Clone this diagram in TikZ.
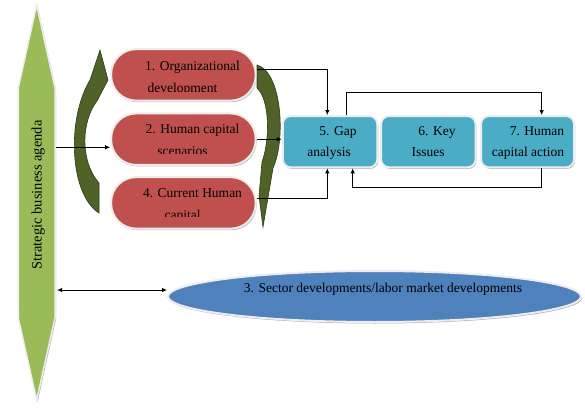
\documentclass[tikz,border=0pt]{standalone}
\usepackage{fontspec}
\setmainfont{Liberation Serif}
\usetikzlibrary{arrows.meta,shapes.geometric,shadows}
\definecolor{cred}{HTML}{C0504D}
\definecolor{cteal}{HTML}{4BACC6}
\definecolor{cblue}{HTML}{4F81BD}
\definecolor{cgreen}{HTML}{9BBB59}
\definecolor{cdark}{HTML}{4F6228}
\definecolor{cdarkline}{HTML}{2E3A17}
\definecolor{cedge}{HTML}{EDEDED}
\begin{document}
\begin{tikzpicture}[x=1pt,y=-1pt,
  conn/.style={line width=0.8pt,-{Latex[length=5pt,width=4.5pt]}},
  dconn/.style={line width=0.8pt,{Latex[length=5pt,width=4.5pt]}-{Latex[length=5pt,width=4.5pt]}},
  shad/.style={drop shadow={shadow xshift=1pt,shadow yshift=-1.5pt,opacity=0.3,fill=black}},
  redbox/.style={rectangle,rounded corners=25pt,fill=cred,draw=cedge,line width=2pt,
    minimum width=144.5pt,minimum height=51.5pt,inner sep=0pt,shad},
  tealbox/.style={rectangle,rounded corners=8pt,fill=cteal,draw=cedge,line width=2pt,
    minimum width=94.5pt,minimum height=51.3pt,inner sep=0pt,shad},
  curvarrow/.style={fill=cdark,draw=cdarkline,line width=0.6pt},
  txt/.style={anchor=base,inner sep=0pt,font=\fontsize{13.5}{16}\selectfont},
]
\useasboundingbox (0,0) rectangle (585,411);

% green bar
\path[fill=cgreen,draw=cedge,line width=1.5pt,shad]
  (36.7,5) -- (55,88) -- (55,318) -- (36.7,400) -- (18.3,318) -- (18.3,88) -- cycle;
\node[txt,rotate=90,font=\fontsize{14.5}{16}\selectfont] (agenda) at (41.5,195) {Strategic business agenda};
\coordinate (ag1) at (56,147.3);
\coordinate (ag2) at (57,290);

% curved arrows
\path[curvarrow] (100,50) -- (108,80) -- (97,101)
  .. controls (82,120) and (79,160) .. (99,183) -- (99,213)
  .. controls (70,195) and (66,120) .. (90,80) -- cycle;
\path[curvarrow] (257,65) .. controls (282,72) and (286,140) .. (273,168)
  -- (263,227) -- (259,196) -- (262,162)
  .. controls (270,140) and (270,100) .. (257,88) -- cycle;

% red boxes
\node[redbox] (b1) at (183.4,74.9) {};
\node[redbox] (b2) at (183.4,139.2) {};
\node[redbox] (b4) at (183.4,202.9) {};
\node[txt] (b1t) at (192.5,70.7) {1. Organizational};
\node[txt] (b2t) at (192.5,134) {2. Human capital};
\node[txt] (b4t) at (192.5,197.7) {4. Current Human};
\begin{scope}
  \clip (100,40) rectangle (270,91.2);
  \node[txt] (b1u) at (182.5,93) {development};
\end{scope}
\begin{scope}
  \clip (100,100) rectangle (270,154);
  \node[txt] (b2u) at (182.5,156) {scenarios};
\end{scope}
\begin{scope}
  \clip (100,170) rectangle (270,217);
  \node[txt] (b4u) at (182.5,219.5) {capital};
\end{scope}

% teal boxes
\node[tealbox] (g5) at (330,141.7) {};
\node[tealbox] (k6) at (428.3,141.7) {};
\node[tealbox,minimum width=93pt] (h7) at (527.5,141.7) {};
\node[txt] (g5a) at (338,136) {5. Gap};
\node[txt] (g5b) at (329,156.7) {analysis};
\node[txt] (k6a) at (437,136) {6. Key};
\node[txt] (k6b) at (428,156.7) {Issues};
\node[txt] (h7a) at (537,136) {7. Human};
\node[txt] (h7b) at (528,156.7) {capital action};

% ellipse
\node[ellipse,fill=cblue,draw=cedge,line width=2pt,minimum width=413pt,minimum height=51pt,
  inner sep=0pt,shad] (sec) at (374.5,296.5) {};
\node[txt] (sect) at (383,292.7) {3. Sector developments/labor market developments};

% connectors
\draw[conn] ([yshift=5pt]b1.east) -| ([xshift=-2.7pt]g5.north);
\draw[conn] (b2.east) -- (b2.east -| g5.west);
\draw[conn] ([yshift=4.6pt]b4.east) -| ([xshift=-2.7pt]g5.south);
\draw[conn] ([xshift=16.7pt]g5.north) -- ++(0,-22.7) -| ([xshift=14.2pt]h7.north);
\draw[conn] ([xshift=14.2pt]h7.south) -- ++(0,19.4) -| ([xshift=22.7pt]g5.south);
\draw[conn] (ag1) -- (ag1 -| b2.west);
\draw[dconn] (ag2) -- (ag2 -| sec.west);
\end{tikzpicture}
\end{document}
